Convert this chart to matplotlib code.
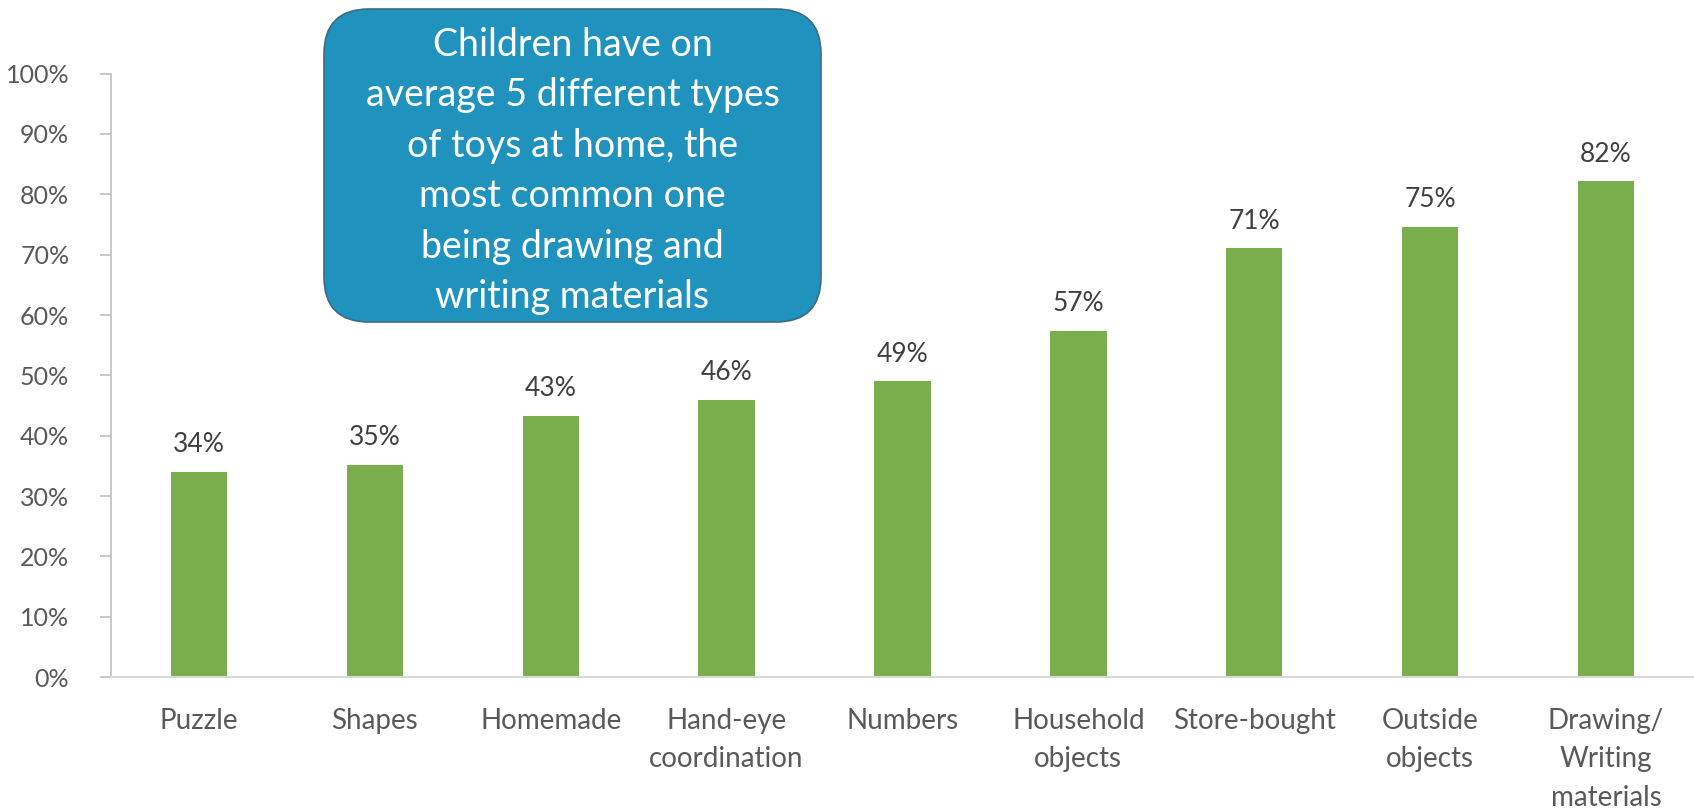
import matplotlib.pyplot as plt
from matplotlib.patches import FancyBboxPatch
from matplotlib.ticker import PercentFormatter

plt.rcParams['font.family'] = ['Lato', 'DejaVu Sans']

categories = ["Puzzle", "Shapes", "Homemade", "Hand-eye\ncoordination", "Numbers",
              "Household\nobjects", "Store-bought", "Outside\nobjects",
              "Drawing/\nWriting\nmaterials"]
shares = [34.0, 35.2, 43.3, 46.0, 49.0, 57.4, 71.1, 74.6, 82.2]
note = ("Children have on\naverage 5 different types\nof toys at home, the\n"
        "most common one\nbeing drawing and\nwriting materials")

fig = plt.figure(figsize=(16.94, 8.09), dpi=100)
ax = fig.add_axes([0.0655, 0.163, 0.9345, 0.746])

x = range(len(categories))
bars = ax.bar(x, shares, width=0.32, color="#7AAD4B")
for b, v in zip(bars, shares):
    ax.text(b.get_x() + b.get_width() / 2, v + 2.4, f"{v:.0f}%",
            ha="center", va="bottom", fontsize=19, color="#404040")

ax.set_xlim(-0.5, len(categories) - 0.5)
ax.set_ylim(0, 100)
ax.set_yticks(range(0, 101, 10))
ax.yaxis.set_major_formatter(PercentFormatter(decimals=0))
ax.set_xticks(list(x))
ax.set_xticklabels(categories, fontsize=20, color="#595959", va="top", linespacing=1.6)
ax.tick_params(axis="x", length=0, pad=22)
ax.tick_params(axis="y", length=8, width=1.2, color="#BFBFBF", labelsize=18,
               labelcolor="#595959", pad=22)
for side in ["top", "right"]:
    ax.spines[side].set_visible(False)
ax.spines["left"].set_color("#BFBFBF")
ax.spines["left"].set_linewidth(1.2)
ax.spines["bottom"].set_color("#D9D9D9")
ax.spines["bottom"].set_linewidth(1.5)

# callout box
box = FancyBboxPatch((3.24, 4.87), 4.97, 3.13,
                     boxstyle="round,pad=0,rounding_size=0.45",
                     transform=fig.dpi_scale_trans, facecolor="#1F92BE",
                     edgecolor="#3E6A85", linewidth=1.2, zorder=5)
fig.patches.append(box)
fig.text(5.725 / 16.94, 6.38 / 8.09, note, ha="center", va="center",
         fontsize=27, color="white", linespacing=1.5, zorder=6)

fig.savefig("out.png", dpi=100)
